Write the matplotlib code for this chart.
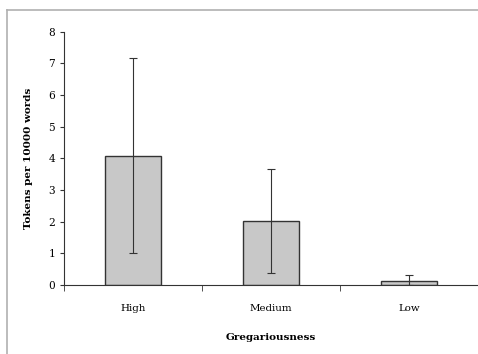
import matplotlib
matplotlib.use('Agg')
from matplotlib import pyplot as plt
from matplotlib.lines import Line2D
import numpy as np

categories = ['High', 'Medium', 'Low']
means = [4.08, 2.01, 0.12]
err_low = [1.01, 0.37, 0.0]
err_high = [7.17, 3.65, 0.31]

plt.rcParams['font.family'] = 'DejaVu Serif'

fig = plt.figure(figsize=(4.78, 3.54), dpi=100)
ax = fig.add_axes([0.134, 0.195, 0.866, 0.715])

x = np.arange(len(categories)) + 0.5
yerr = [np.array(means) - np.array(err_low), np.array(err_high) - np.array(means)]
ax.bar(x, means, width=0.4, color='#c8c8c8', edgecolor='#333333', linewidth=1.0)
ax.errorbar(x, means, yerr=yerr, fmt='none', ecolor='#333333', elinewidth=0.8,
            capsize=3, capthick=0.8)

ax.set_xlim(0, 3)
ax.set_ylim(0, 8)
ax.set_yticks(range(0, 9))
ax.set_xticks(x)
ax.set_xticklabels(categories)
ax.set_xticks([0, 1, 2, 3], minor=True)
ax.tick_params(axis='x', which='major', length=0, pad=14, labelsize=7.4)
ax.tick_params(axis='x', which='minor', length=4, direction='out', color='#333333')
ax.tick_params(axis='y', length=3, direction='out', labelsize=7.6, color='#333333')

for s in ['top', 'right']:
    ax.spines[s].set_visible(False)
ax.spines['left'].set_color('#333333')
ax.spines['bottom'].set_color('#333333')

ax.set_ylabel('Tokens per 10000 words', fontsize=7.5, fontweight='bold', labelpad=11)
ax.set_xlabel('Gregariousness', fontsize=7.5, fontweight='bold', labelpad=14)

# grey frame round the figure
fig.add_artist(Line2D([0.0146, 1.01], [0.972, 0.972], color='#b0b0b0', linewidth=1.2))
fig.add_artist(Line2D([0.0146, 0.0146], [-0.01, 0.972], color='#b0b0b0', linewidth=1.2))

fig.savefig('out.png', dpi=100)
